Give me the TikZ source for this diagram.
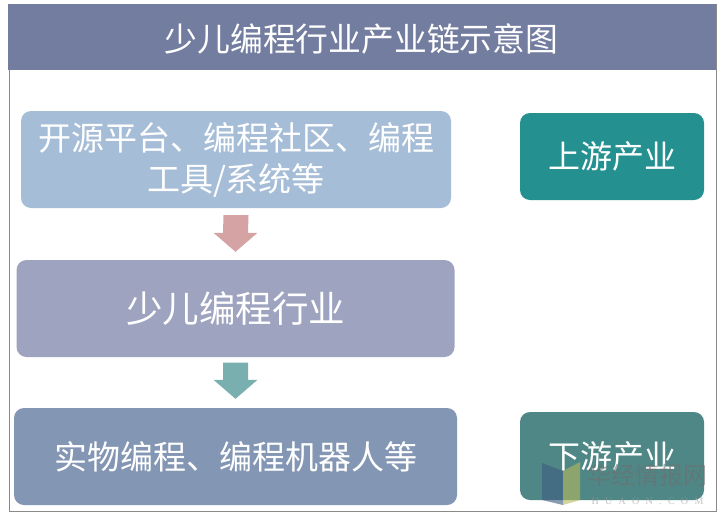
\documentclass[tikz,border=0pt]{standalone}
\usepackage{fontspec}
\newfontfamily\cjk{Noto Sans CJK SC}
\newfontfamily\wmserif{Liberation Serif}
\usetikzlibrary{calc}
\definecolor{titlebg}{HTML}{737DA0}
\definecolor{boxA}{HTML}{A6BDD7}
\definecolor{boxB}{HTML}{9EA3BF}
\definecolor{boxC}{HTML}{8396B4}
\definecolor{upbox}{HTML}{259090}
\definecolor{downbox}{HTML}{4F8787}
\definecolor{arrowA}{HTML}{D5A3A3}
\definecolor{arrowB}{HTML}{79AFAE}
\definecolor{framegray}{HTML}{8A8A8A}
\definecolor{wmblue}{HTML}{3D5A80}
\definecolor{wmyellow}{HTML}{B5BA5A}
\definecolor{wmtext}{HTML}{6E6E6E}
\begin{document}
\begin{tikzpicture}[x=1pt,y=-1pt,
  box/.style={rounded corners=10pt, inner sep=0pt, text=white, align=center,
    font=\cjk\fontsize{33}{41}\selectfont}]
\useasboundingbox (0,0) rectangle (720,517);
\fill[white] (0,0) rectangle (720,517);
\draw[framegray, line width=1pt] (9,4.5) rectangle (716,511);
\fill[titlebg] (8,4) rectangle (716,70);
\node[text=white, inner sep=0pt, font=\cjk\fontsize{32.8}{36}\selectfont] (title) at (361.5,39) {少儿编程行业产业链示意图};

\node[box, fill=boxA, minimum width=430pt, minimum height=97pt] (b1) at (236,159.5)
  {开源平台、编程社区、编程\\工具/系统等};
\node[box, fill=boxB, minimum width=438pt, minimum height=97pt,
  font=\cjk\fontsize{36.5}{40}\selectfont] (b2) at (235.5,308.5) {少儿编程行业};
\node[box, fill=boxC, minimum width=443pt, minimum height=97pt] (b3) at (235.5,456.5)
  {实物编程、编程机器人等};
\node[box, fill=upbox, minimum width=184pt, minimum height=87pt, font=\cjk\fontsize{32}{36}\selectfont] (up) at (612,156.5) {上游产业};
\node[box, fill=downbox, minimum width=184pt, minimum height=88pt, font=\cjk\fontsize{32}{36}\selectfont] (down) at (612,456) {下游产业};

% block arrows between boxes
\fill[arrowA] ($(b1.south)+(-12.5,7)$) -- ($(b1.south)+(12.5,7)$) -- ($(b2.north)+(12.5,-27)$)
  -- ($(b2.north)+(22,-27)$) -- ($(b2.north)+(0,-8)$) -- ($(b2.north)+(-22,-27)$)
  -- ($(b2.north)+(-12.5,-27)$) -- cycle;
\fill[arrowB] ($(b2.south)+(-12.5,5.5)$) -- ($(b2.south)+(12.5,5.5)$) -- ($(b3.north)+(12.5,-28)$)
  -- ($(b3.north)+(22,-28)$) -- ($(b3.north)+(0,-9)$) -- ($(b3.north)+(-22,-28)$)
  -- ($(b3.north)+(-12.5,-28)$) -- cycle;

% watermark
\begin{scope}[opacity=0.6]
\fill[wmblue] (542,463) -- (563,471) -- (563,505) -- (542,500) -- cycle;
\fill[wmyellow] (563,471) -- (580,462) -- (580,500) -- (563,505) -- cycle;
\node[text=wmtext, inner sep=0pt, font=\cjk\fontsize{24}{26}\selectfont] (wm) at (647.5,475) {华经情报网};
\node[text=wmtext!70, inner sep=0pt, font=\wmserif\fontsize{10}{12}\selectfont] (wm2) at (647.5,501.5)
  {H\hspace{6.3pt}U\hspace{6.3pt}A\hspace{6.3pt}O\hspace{6.3pt}N\hspace{6.3pt}.\hspace{6.3pt}C\hspace{6.3pt}O\hspace{6.3pt}M};
\end{scope}
\end{tikzpicture}
\end{document}
